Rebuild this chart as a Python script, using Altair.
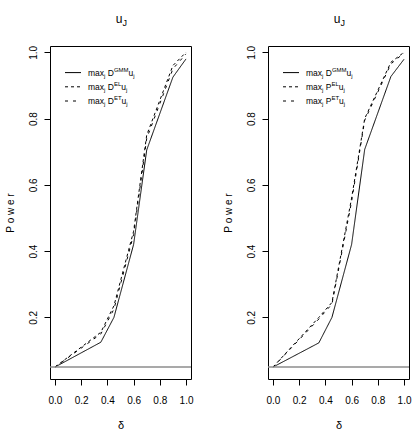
import altair as alt
import pandas as pd

# ---- data ----
delta = [0.0, 0.35, 0.45, 0.6, 0.7, 0.9, 1.0]

left_gmm = [0.05, 0.125, 0.20, 0.42, 0.705, 0.925, 0.98]
left_el = [0.05, 0.155, 0.235, 0.46, 0.75, 0.96, 1.0]
left_et = [0.05, 0.150, 0.225, 0.45, 0.74, 0.95, 0.995]

right_gmm = [0.05, 0.123, 0.20, 0.42, 0.707, 0.927, 0.979]
right_el = [0.05, 0.200, 0.245, 0.56, 0.80, 0.97, 1.0]
right_et = [0.05, 0.195, 0.240, 0.55, 0.795, 0.965, 0.998]

x_ticks = [0.0, 0.2, 0.4, 0.6, 0.8, 1.0]
y_ticks = [0.2, 0.4, 0.6, 0.8, 1.0]
size_level = [0.05]

methods = ["GMM", "EL", "ET"]

FONT = "Liberation Sans"
W, H = 141, 333

# Arial-like advance widths (em units)
ADV = {"m": 0.833, "a": 0.556, "x": 0.5, "j": 0.222, " ": 0.278, "D": 0.722,
       "P": 0.667, "G": 0.778, "M": 0.833, "E": 0.667, "L": 0.556, "T": 0.611,
       "u": 0.556, "J": 0.5}

DASH = {"GMM": [1, 0], "EL": [3, 3], "ET": [3, 5]}


def tw(s, fs):
    return sum(ADV.get(c, 0.556) for c in s) * fs


def txt(s, x, y, fs):
    return alt.Chart(alt.Data(values=[{}])).mark_text(
        text=s, font=FONT, fontSize=fs, align="left", baseline="alphabetic",
        color="black"
    ).encode(x=alt.value(x), y=alt.value(y))


def legend_row(letter, sup, y_line):
    layers = [alt.Chart(alt.Data(values=[{}])).mark_rule(
        color="black", strokeWidth=1, strokeDash=DASH[sup]).encode(
        x=alt.value(15), x2=alt.value(31), y=alt.value(y_line))]
    fs, ss = 8.5, 6
    base = y_line + 3
    x = 38.0
    pieces = [("max", fs, 0, 0), ("j", ss, 2, 0), (letter, fs, 0, tw(" ", fs)),
              (sup, ss, -4, 0), ("u", fs, 0, 0), ("j", ss, 2, 0)]
    for s, f, dy, pre in pieces:
        x += pre
        layers.append(txt(s, x, base + dy, f))
        x += tw(s, f)
    return layers


def panel(gmm, el, et, letter):
    df = pd.DataFrame({
        "delta": delta * 3,
        "power": gmm + el + et,
        "method": ["GMM"] * len(delta) + ["EL"] * len(delta) + ["ET"] * len(delta),
    })
    xs = alt.Scale(domain=[-0.038, 1.038], nice=False, zero=False)
    ys = alt.Scale(domain=[0.014, 1.019], nice=False, zero=False)
    y_axis = alt.Axis(values=y_ticks, format=".1f", title="P o w e r")
    x_axis = alt.Axis(values=x_ticks, format=".1f", title="δ")

    lines = alt.Chart(df).mark_line(color="black", strokeWidth=1).encode(
        x=alt.X("delta:Q", scale=xs, axis=x_axis),
        y=alt.Y("power:Q", scale=ys, axis=y_axis),
        strokeDash=alt.StrokeDash("method:N",
                                  scale=alt.Scale(domain=methods,
                                                  range=[DASH[m] for m in methods]),
                                  legend=None),
        detail="method:N",
    )

    hline = alt.Chart(pd.DataFrame({"h": size_level})).mark_rule(
        color="#8c8c8c", strokeWidth=1.5).encode(
        y=alt.Y("h:Q", scale=ys, axis=y_axis))

    legend = []
    for i, m in enumerate(methods):
        legend += legend_row("D" if m == "GMM" else letter, m, 26.6 + 14.2 * i)

    title = [txt("u", 65.7, -23.4, 12), txt("J", 72.6, -20, 9)]

    return alt.layer(lines, hline, *legend, *title).properties(width=W, height=H)


left = panel(left_gmm, left_el, left_et, "D")
right = panel(right_gmm, right_el, right_et, "P")

chart = alt.hconcat(left, right, spacing=28).properties(
    padding={"left": 4, "top": 12, "right": 0, "bottom": 0}
).configure_view(
    stroke="black", strokeWidth=1
).configure_axis(
    domain=False, grid=False, tickColor="black", tickSize=6, tickWidth=1,
    labelFont=FONT, titleFont=FONT, labelColor="black", titleColor="black",
    labelFontSize=10, titleFontSize=10, titleFontWeight="normal",
).configure_axisX(
    labelPadding=10, titlePadding=14, titleFontSize=11,
).configure_axisY(
    labelAngle=270, labelAlign="center", labelBaseline="bottom",
    labelPadding=6, titlePadding=13,
)

chart.save("out.html", embed_options={"renderer": "svg", "actions": False})
